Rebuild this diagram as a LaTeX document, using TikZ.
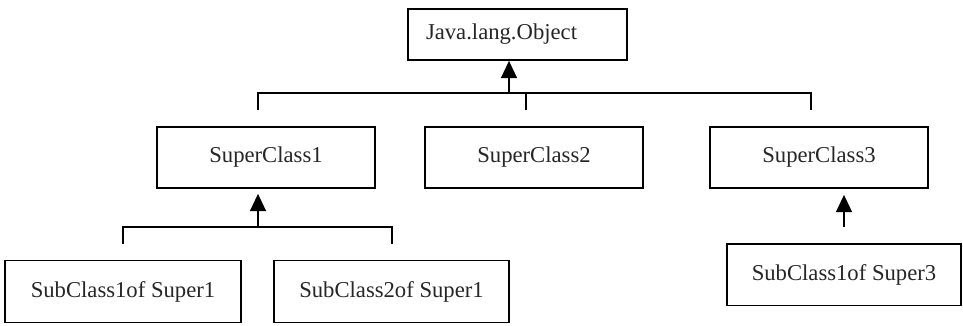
\documentclass[tikz,border=0pt]{standalone}
\usepackage{fontspec}
\setmainfont{Liberation Serif}
\usetikzlibrary{arrows.meta}

\begin{document}
\begin{tikzpicture}[x=0.75pt,y=-0.75pt,
  classbox/.style={draw, line width=1.3pt, inner sep=0pt, minimum height=45.75pt,
    font=\fontsize{17}{20}\selectfont, text=black!85},
  link/.style={line width=1.3pt},
  arr/.style={line width=1.3pt, -{Triangle[width=12pt,length=13pt]}}]
  \useasboundingbox (0,0) rectangle (963,325);

  % root class
  \node[classbox, minimum width=164.25pt, minimum height=38.25pt, inner xsep=13.5pt,
        text width=137.25pt, align=left] (obj) at (517.5,34.5) {Java.lang.Object};

  % first level
  \node[classbox, minimum width=163.5pt] (sc1) at (266,157.5) {SuperClass1};
  \node[classbox, minimum width=163.5pt] (sc2) at (534,157.5) {SuperClass2};
  \node[classbox, minimum width=163.5pt] (sc3) at (819,157.5) {SuperClass3};

  % second level
  \node[classbox, minimum width=177pt, minimum height=46.5pt] (s11) at (123,291.5) {SubClass1of Super1};
  \node[classbox, minimum width=176.25pt, minimum height=46.5pt] (s21) at (391.5,291.5) {SubClass2of Super1};
  \node[classbox, minimum width=175.5pt, minimum height=46.1pt] (s13) at (844,274.75) {SubClass1of Super3};

  % bus lines below the root
  \coordinate (busL) at (258,93);
  \coordinate (busR) at (811,93);
  \coordinate (busM) at (526,93);
  \coordinate (busA) at (509,93);
  \coordinate (stub1) at (258,110);
  \coordinate (stub2) at (526,110);
  \coordinate (stub3) at (811,110);
  \draw[link] (stub1) -- (busL) -- (busR) -- (stub3);
  \draw[link] (stub2) -- (busM);
  \draw[arr] (busA) -- (busA |- obj.south);

  % bus lines below SuperClass1
  \coordinate (subL) at (123,227);
  \coordinate (subR) at (392,227);
  \coordinate (subA) at (258,227);
  \coordinate (subStubL) at (123,244);
  \coordinate (subStubR) at (392,244);
  \draw[link] (subStubL) -- (subL) -- (subR) -- (subStubR);
  \draw[arr, shorten >=3.75pt] (subA) -- (subA |- sc1.south);

  % single link below SuperClass3
  \coordinate (s3A) at (844,227);
  \draw[arr, shorten >=4.5pt] (s3A) -- (s3A |- sc3.south);
\end{tikzpicture}
\end{document}
